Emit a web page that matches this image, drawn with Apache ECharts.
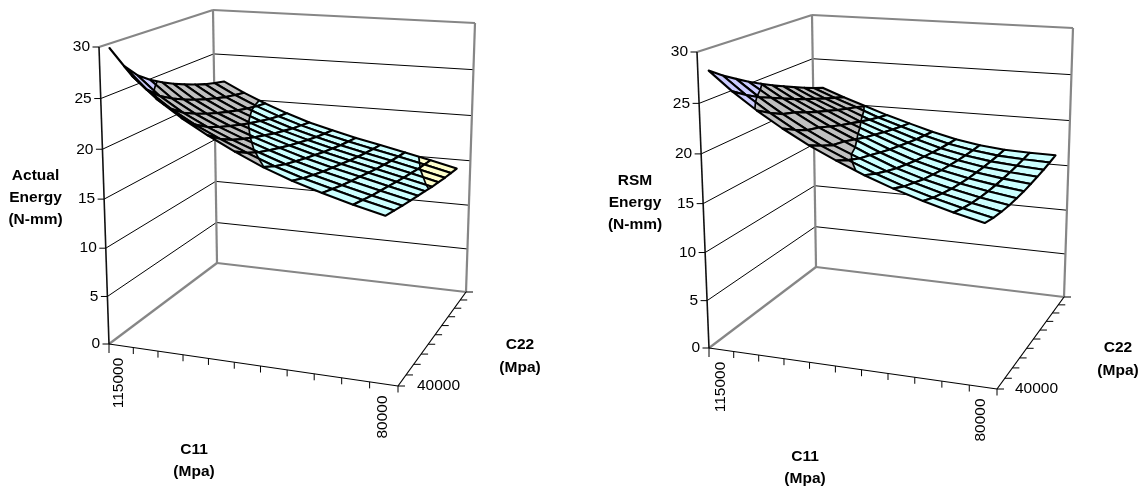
<!DOCTYPE html>
<html>
<head>
<meta charset="utf-8">
<style>html,body{margin:0;padding:0;background:#fff}#c{width:1145px;height:487px}</style>
<script src="https://cdn.jsdelivr.net/npm/echarts@6/dist/echarts.min.js"></script>
</head>
<body>
<div id="c"></div>
<script>
// ---------- data ----------
const c11Labels = ['115000','','','','','','','','','','80000'];
const c22Labels = ['40000','','','','','','','','','',''];
const zTicks = [0,5,10,15,20,25,30];
// rows: C22 from 40000 backwards; columns: C11 from 115000 to 80000
const actualEnergy = [
 [30.0,27.5,25.55,23.95,22.55,21.25,20.05,19.05,18.2,17.4,16.7],
 [27.8,25.69,24.06,22.71,21.54,20.45,19.42,18.55,17.8,17.05,16.36],
 [26.4,24.52,23.06,21.87,20.82,19.84,18.92,18.13,17.42,16.7,16.02],
 [25.45,23.73,22.39,21.27,20.29,19.39,18.53,17.78,17.1,16.41,15.73],
 [24.7,23.1,21.83,20.77,19.83,18.98,18.17,17.46,16.81,16.12,15.44],
 [24.05,22.55,21.34,20.32,19.42,18.6,17.83,17.15,16.51,15.83,15.15],
 [23.5,22.08,20.91,19.91,19.02,18.24,17.5,16.84,16.21,15.55,14.86],
 [23.0,21.67,20.53,19.56,18.7,17.94,17.23,16.59,15.97,15.31,14.62],
 [22.55,21.28,20.19,19.23,18.38,17.65,16.96,16.34,15.73,15.07,14.38],
 [22.2,21.0,19.92,18.98,18.14,17.41,16.75,16.14,15.54,14.88,14.19],
 [21.9,20.75,19.7,18.75,17.9,17.2,16.55,15.95,15.35,14.7,14.0]
];
const rsmEnergy = [
 [28.3,26.5,24.87,23.37,21.99,20.79,19.66,18.66,17.78,16.98,16.3],
 [27.34,25.62,24.06,22.62,21.31,20.16,19.09,18.14,17.32,16.6,15.98],
 [26.52,24.88,23.39,22.01,20.75,19.67,18.66,17.77,17.0,16.34,15.79],
 [25.74,24.3,23.01,21.68,20.5,19.34,18.27,17.43,16.73,16.14,15.65],
 [25.06,23.7,22.47,21.21,20.08,18.98,17.98,17.2,16.55,16.03,15.6],
 [24.4,23.12,21.97,20.76,19.7,18.66,17.71,16.98,16.39,15.95,15.58],
 [23.82,22.62,21.53,20.39,19.39,18.41,17.51,16.84,16.31,15.93,15.63],
 [23.24,22.12,21.1,20.02,19.08,18.15,17.33,16.71,16.23,15.93,15.69],
 [22.69,21.65,20.69,19.67,18.8,17.93,17.16,16.6,16.19,15.95,15.77],
 [22.18,21.22,20.34,19.37,18.56,17.75,17.05,16.54,16.18,16.01,15.9],
 [21.7,20.8,19.95,19.1,18.35,17.6,16.95,16.5,16.2,16.1,16.05]
];
const bandEdges = [0,5,10,15,20,25,30];
const bandColors = ['#9999FF','#993366','#FFFFCC','#CCFFFF','#C0C0C0','#CCCCFF'];

// ---------- layout and camera of the two 3D boxes ----------
const panels = [
 { energy: actualEnergy,
   floor:[[109,344],[398,386],[466,292],[217,263]],
   top:[[99,47],[405,77],[475,23],[213,10]],
   xRange:[0,572], grid:{left:0,top:0,width:572,height:487},
   zTitle:['Actual','Energy','(N-mm)'], zTitlePos:[35.5,176],
   c11Title:[194,450], c22Title:[520,345],
   c11LabelY:[383,417], c11LabelDx:[-2,-1], c22LabelDx:19 },
 { energy: rsmEnergy,
   floor:[[709,348],[997,389],[1064,297],[816,267]],
   top:[[697,52],[1004,80],[1073,28],[812,15]],
   xRange:[572,1145], grid:{left:572,top:0,width:573,height:487},
   zTitle:['RSM','Energy','(N-mm)'], zTitlePos:[635,181],
   c11Title:[805,457], c22Title:[1118,348],
   c11LabelY:[387,420], c11LabelDx:[-1,-2], c22LabelDx:18 }
];
const FONT = '15.5px "Liberation Sans", Arial, sans-serif';
const BOLD = 'bold 15.5px "Liberation Sans", Arial, sans-serif';
const VMAX = 1, PERSP = 1.05;

function homography(q){
  const [x0,y0]=q[0],[x1,y1]=q[1],[x2,y2]=q[2],[x3,y3]=q[3];
  const dx1=x1-x2,dx2=x3-x2,sx=x0-x1+x2-x3,dy1=y1-y2,dy2=y3-y2,sy=y0-y1+y2-y3;
  const den=dx1*dy2-dx2*dy1;
  const g=(sx*dy2-dx2*sy)/den,h=(dx1*sy-sx*dy1)/den;
  const a=x1-x0+g*x1,b=x3-x0+h*x3,d=y1-y0+g*y1,e=y3-y0+h*y3;
  return (u,v)=>{const w=g*u+h*v+1;return [(a*u+b*v+x0)/w,(d*u+e*v+y0)/w];};
}
panels.forEach(p=>{p.fH=homography(p.floor);p.tH=homography(p.top);});
function project(p,u,v,z){
  const w=z/30, t=w/(PERSP-(PERSP-1)*w);
  const f=p.fH(u,v), g=p.tH(u,v);
  return [f[0]+(g[0]-f[0])*t, f[1]+(g[1]-f[1])*t];
}
const N=c11Labels.length, M=c22Labels.length;
const uOf=i=>(i+0.5)/N, vOf=j=>j/(M-1)*VMAX;

function clipAbove(poly,L,sign){
  const out=[];
  for(let k=0;k<poly.length;k++){
    const a=poly[k],b=poly[(k+1)%poly.length];
    const ia=sign*(a.z-L)>=0, ib=sign*(b.z-L)>=0;
    if(ia) out.push(a);
    if(ia!==ib){const t=(L-a.z)/(b.z-a.z);out.push({i:a.i+(b.i-a.i)*t,j:a.j+(b.j-a.j)*t,z:L});}
  }
  return out;
}

function cellItem(p){
  return function(params,api){
    const i=api.value(0),j=api.value(1);
    const q=[{i:i,j:j,z:api.value(2)},{i:i+1,j:j,z:api.value(3)},{i:i+1,j:j+1,z:api.value(4)},{i:i,j:j+1,z:api.value(5)}];
    const pt=o=>api.coord(project(p,uOf(o.i),vOf(o.j),o.z));
    const children=[];
    bandColors.forEach((c,b)=>{
      let poly=clipAbove(q,bandEdges[b],1);
      if(poly.length) poly=clipAbove(poly,bandEdges[b+1],-1);
      if(poly.length>2) children.push({type:'polygon',shape:{points:poly.map(pt)},style:{fill:c,stroke:c,lineWidth:0.4},silent:true});
    });
    bandEdges.forEach(L=>{
      const pts=[];
      for(let k=0;k<4;k++){
        const a=q[k],b=q[(k+1)%4];
        if((a.z-L)*(b.z-L)<0){const t=(L-a.z)/(b.z-a.z);pts.push({i:a.i+(b.i-a.i)*t,j:a.j+(b.j-a.j)*t,z:L});}
      }
      if(pts.length>=2) children.push({type:'polyline',shape:{points:[pt(pts[0]),pt(pts[1])]},style:{stroke:'#000',lineWidth:1.7,fill:null},silent:true});
    });
    children.push({type:'polygon',shape:{points:q.map(pt)},style:{fill:null,stroke:'#000',lineWidth:2.1,lineJoin:'round'},silent:true});
    return {type:'group',children:children};
  };
}
function cellsOf(energy){
  const out=[];
  for(let j=M-2;j>=0;j--) for(let i=0;i<N-1;i++)
    out.push([i,j,energy[j][i],energy[j][i+1],energy[j+1][i+1],energy[j+1][i]]);
  return out;
}

function frameItem(p){
  return function(params,api){
    const c=(u,v,z)=>api.coord(project(p,u,v,z));
    const kids=[];
    const line=(a,b,stroke,w)=>kids.push({type:'line',shape:{x1:a[0],y1:a[1],x2:b[0],y2:b[1]},style:{stroke:stroke,lineWidth:w},silent:true});
    const text=(t,x,y,font,align,rot)=>kids.push({type:'text',x:x,y:y,rotation:rot||0,style:{text:t,font:font,fill:'#000',align:align||'center',verticalAlign:'middle'},silent:true});
    zTicks.slice(1,-1).forEach(z=>{
      line(c(0,0,z),c(0,1,z),'#000',1);
      line(c(0,1,z),c(1,1,z),'#000',1);
    });
    const gray='#868686';
    line(c(0,0,30),c(0,1,30),gray,2.2);
    line(c(0,1,30),c(1,1,30),gray,2.2);
    line(c(0,1,0),c(0,1,30),gray,2.2);
    line(c(1,1,0),c(1,1,30),gray,2.2);
    line(c(0,0,0),c(0,1,0),gray,2.2);
    line(c(0,1,0),c(1,1,0),gray,2.2);
    line(c(0,0,0),c(0,0,30),'#111',1.6);
    line(c(0,0,0),c(1,0,0),'#000',1.2);
    line(c(1,0,0),c(1,1,0),'#000',1.2);
    zTicks.forEach(z=>{
      const a=c(0,0,z);
      line([a[0]-6.5,a[1]],a,'#000',1);
      text(String(z),a[0]-9,a[1],FONT,'right');
    });
    for(let k=0;k<=N;k++){
      const a=c(k/N,0,0);
      line(a,[a[0],a[1]+(k===0?9:6.5)],'#000',1);
    }
    for(let k=0;k<M;k++){
      const a=c(1,k/(M-1),0);
      line(a,[a[0]+7,a[1]],'#000',1);
    }
    c11Labels.forEach((t,i)=>{
      if(!t) return;
      const a=c(uOf(i),0,0), idx=i===0?0:1;
      text(t,a[0]+p.c11LabelDx[idx],api.coord([0,p.c11LabelY[idx]])[1],FONT,'center',Math.PI/2);
    });
    c22Labels.forEach((t,j)=>{
      if(!t) return;
      const a=c(1,j/(M-1),0);
      text(t,a[0]+p.c22LabelDx,a[1],FONT,'left');
    });
    p.zTitle.forEach((t,k)=>text(t,p.zTitlePos[0],p.zTitlePos[1]+22*k,BOLD));
    ['C11','(Mpa)'].forEach((t,k)=>text(t,p.c11Title[0],p.c11Title[1]+22*k,BOLD));
    ['C22','(Mpa)'].forEach((t,k)=>text(t,p.c22Title[0],p.c22Title[1]+23*k,BOLD));
    return {type:'group',children:kids};
  };
}

const chart=echarts.init(document.getElementById('c'),null,{renderer:'canvas',width:1145,height:487});
const series=[];
panels.forEach((p,k)=>{
  series.push({type:'custom',coordinateSystem:'cartesian2d',xAxisIndex:k,yAxisIndex:k,clip:false,silent:true,
    data:[[p.xRange[0],0]],renderItem:frameItem(p),animation:false,z:1});
  series.push({type:'custom',coordinateSystem:'cartesian2d',xAxisIndex:k,yAxisIndex:k,clip:false,silent:true,
    data:cellsOf(p.energy),renderItem:cellItem(p),animation:false,z:2,progressive:0});
});
chart.setOption({
  animation:false,
  backgroundColor:'#fff',
  grid:panels.map(p=>p.grid),
  xAxis:panels.map((p,k)=>({type:'value',gridIndex:k,min:p.xRange[0],max:p.xRange[1],show:false})),
  yAxis:panels.map((p,k)=>({type:'value',gridIndex:k,min:0,max:487,inverse:true,show:false})),
  tooltip:{show:false},
  series:series
});
</script>
</body>
</html>
